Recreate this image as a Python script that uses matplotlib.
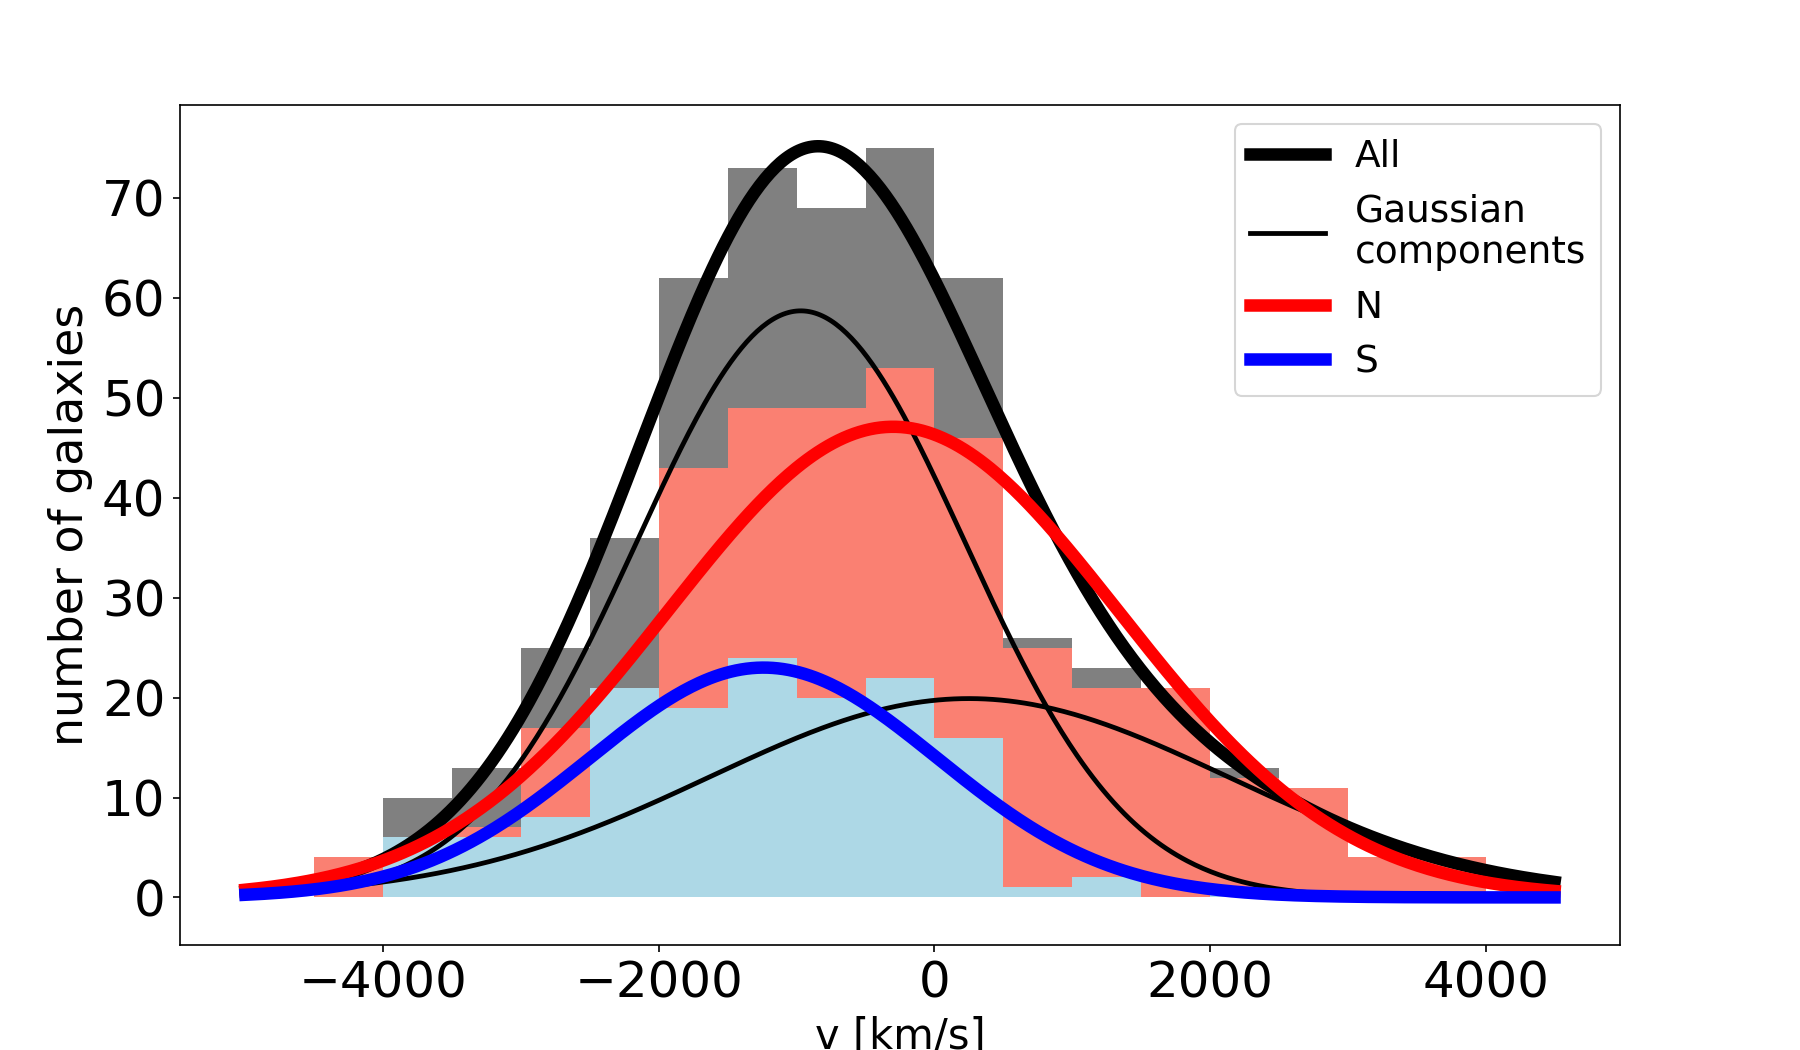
import numpy as np
import matplotlib
matplotlib.use('Agg')
import matplotlib.pyplot as plt

# velocity bins (km/s), width 500
bin_edges = np.arange(-4500, 4001, 500)

# galaxy counts per bin
counts_all = [4, 10, 13, 25, 36, 62, 73, 69, 75, 62, 26, 23, 21, 13, 11, 4, 4]
counts_n = [4, 4, 7, 17, 15, 43, 49, 49, 53, 46, 25, 21, 21, 12, 11, 4, 4]
counts_s = [0, 6, 6, 8, 21, 19, 24, 20, 22, 16, 1, 2, 0, 1, 0, 0, 0]

# fitted gaussians: (amplitude, mean, sigma)
comp1 = (58.7, -970, 1190)
comp2 = (19.9, 250, 1880)
fit_n = (47.1, -300, 1640)
fit_s = (23.0, -1240, 1260)

v_min, v_max = -5000, 4500


def gauss(x, amp, mu, sig):
    return amp * np.exp(-(x - mu) ** 2 / (2 * sig ** 2))


v = np.linspace(v_min, v_max, 500)
centers = 0.5 * (bin_edges[:-1] + bin_edges[1:])

fig = plt.figure(figsize=(12, 7), dpi=150)
ax = fig.add_axes([0.1, 0.1, 0.8, 0.8])

# histograms
ax.hist(centers, bins=bin_edges, weights=counts_all, color='gray')
ax.hist(centers, bins=bin_edges, weights=counts_n, color='salmon')
ax.hist(centers, bins=bin_edges, weights=counts_s, color='lightblue')

# fits
g1 = gauss(v, *comp1)
g2 = gauss(v, *comp2)
ax.plot(v, g1 + g2, color='black', lw=6, label='All')
ax.plot(v, g1, color='black', lw=2.3, label='Gaussian\ncomponents')
ax.plot(v, g2, color='black', lw=2.3)
ax.plot(v, gauss(v, *fit_n), color='red', lw=6, label='N')
ax.plot(v, gauss(v, *fit_s), color='blue', lw=6, label='S')

ax.set_ylim(-4.76, 79.3)
ax.set_xticks([-4000, -2000, 0, 2000, 4000])
ax.set_yticks(range(0, 71, 10))
ax.tick_params(labelsize=24)
ax.set_xlabel('v [km/s]', fontsize=20)
ax.set_ylabel('number of galaxies', fontsize=22)
ax.legend(loc='upper right', fontsize=18)

fig.savefig('out.png', dpi=150)
